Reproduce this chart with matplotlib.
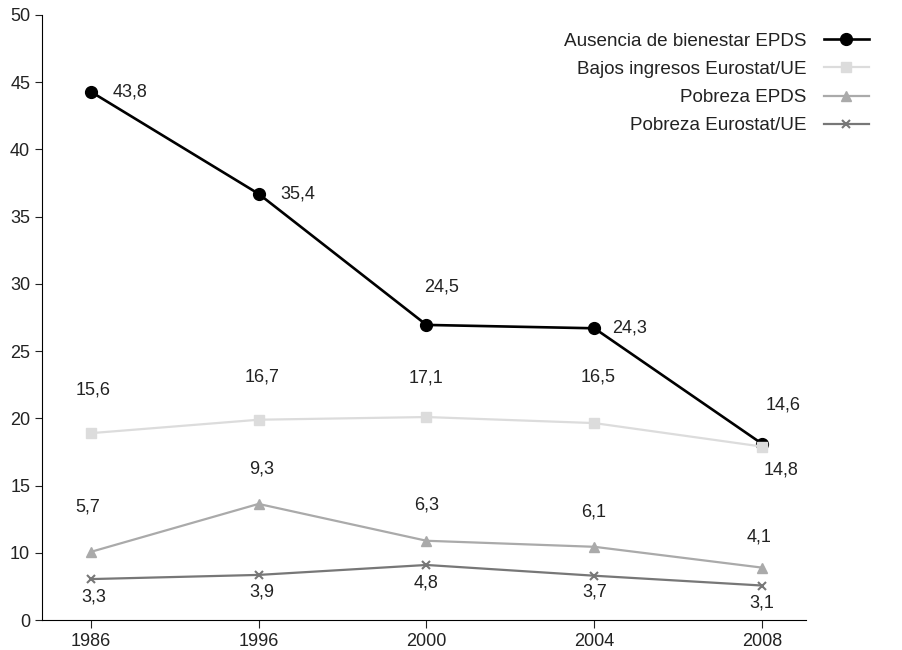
import matplotlib
matplotlib.use("Agg")
import matplotlib.pyplot as plt

plt.rcParams['font.family'] = ['Liberation Sans', 'DejaVu Sans']

years = ["1986", "1996", "2000", "2004", "2008"]

# posiciones (el eje empieza en 5 pero lleva la etiqueta "0")
ausencia = [44.3, 36.7, 26.95, 26.7, 18.1]
bajos = [18.9, 19.9, 20.1, 19.65, 17.9]
pob_epds = [10.07, 13.64, 10.9, 10.45, 8.9]
pob_euro = [8.05, 8.36, 9.1, 8.3, 7.57]

# textos de las etiquetas
ausencia_lbl = ["43,8", "35,4", "24,5", "24,3", "14,6"]
bajos_lbl = ["15,6", "16,7", "17,1", "16,5", "14,8"]
pob_epds_lbl = ["5,7", "9,3", "6,3", "6,1", "4,1"]
pob_euro_lbl = ["3,3", "3,9", "4,8", "3,7", "3,1"]

yticks = [5, 10, 15, 20, 25, 30, 35, 40, 45, 50]
ytick_lbl = ["0", "10", "15", "20", "25", "30", "35", "40", "45", "50"]

fig = plt.figure(figsize=(9.03, 6.5), dpi=100)
ax = fig.add_axes([0.0465, 0.046, 0.846, 0.931])

x = list(range(len(years)))
ax.plot(x, ausencia, color="black", lw=1.9, marker="o", ms=8.5, label="Ausencia de bienestar EPDS", zorder=3)
ax.plot(x, bajos, color="#dcdcdc", lw=1.6, marker="s", ms=6.5, label="Bajos ingresos Eurostat/UE", zorder=4)
ax.plot(x, pob_epds, color="#aaaaaa", lw=1.6, marker="^", ms=7, label="Pobreza EPDS", zorder=4)
ax.plot(x, pob_euro, color="#777777", lw=1.6, marker="x", ms=6, mew=1.5, label="Pobreza Eurostat/UE", zorder=4)

px = 0.72  # puntos por pixel
def put(vals, lbls, offs):
    for i, (v, t) in enumerate(zip(vals, lbls)):
        dx, dy, h = offs[i]
        ax.annotate(t, (i, v), xytext=(dx * px, dy * px), textcoords="offset points",
                    ha=h, va="center", fontsize=13, color="#222222")

put(ausencia, ausencia_lbl, [(22, 0, "left"), (22, 0, "left"), (15, 38, "center"),
                             (18, 0, "left"), (21, 39, "center")])
put(bajos, bajos_lbl, [(2, 43, "center"), (3, 43, "center"), (0, 39, "center"),
                       (4, 46, "center"), (19, -23, "center")])
put(pob_epds, pob_epds_lbl, [(-3, 45, "center"), (3, 35, "center"), (0, 36, "center"),
                             (-1, 35, "center"), (-3, 31, "center")])
put(pob_euro, pob_euro_lbl, [(3, -18, "center"), (3, -17, "center"), (0, -18, "center"),
                             (0, -16, "center"), (0, -17, "center")])

ax.set_xlim(-0.29, 4.26)
ax.set_ylim(5, 50)
ax.set_xticks(x)
ax.set_xticklabels(years)
ax.set_yticks(yticks)
ax.set_yticklabels(ytick_lbl)
ax.tick_params(labelsize=13, colors="#222222", length=5)
ax.tick_params(axis="x", length=6)
for s in ["top", "right"]:
    ax.spines[s].set_visible(False)

leg = ax.legend(loc="upper right", bbox_to_anchor=(0.981, 0.976), bbox_transform=fig.transFigure,
                frameon=False, markerfirst=False, fontsize=13.6, handlelength=2.4,
                labelspacing=0.58, handletextpad=0.9)
for t in leg.get_texts():
    t.set_color("#222222")

fig.savefig("out.png", dpi=100)
